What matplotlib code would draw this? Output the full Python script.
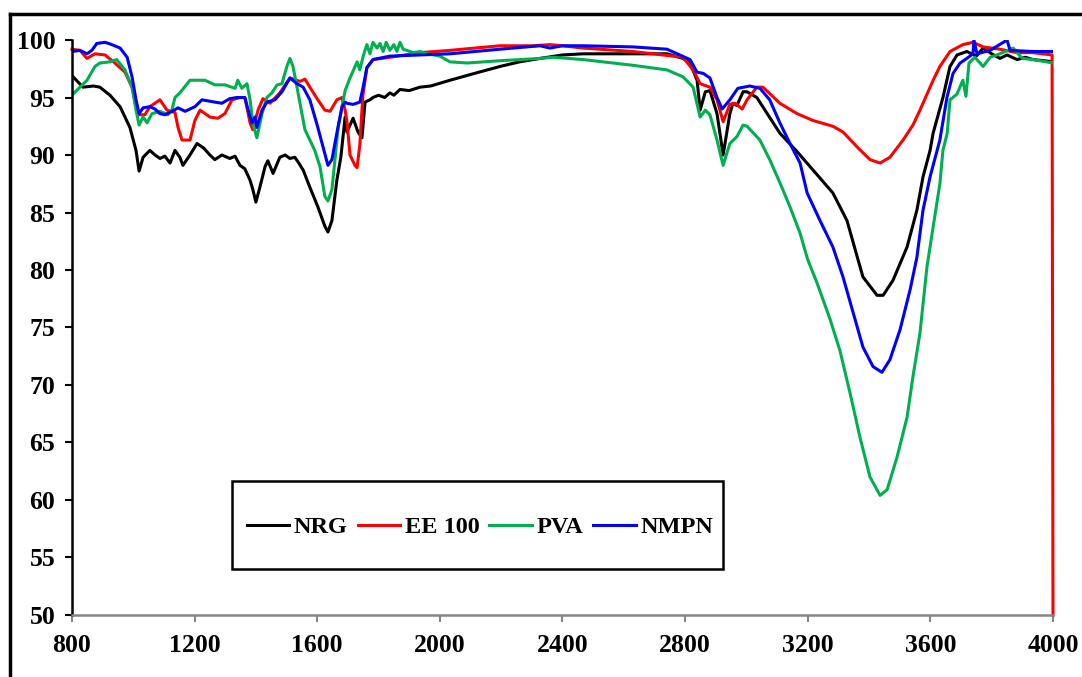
import matplotlib
matplotlib.use('Agg')
import matplotlib.pyplot as plt
from matplotlib.lines import Line2D
from matplotlib.patches import Rectangle

plt.rcParams['font.family'] = ['Liberation Serif', 'DejaVu Serif']
plt.rcParams['font.weight'] = 'bold'

# NRG
nrg_wn = [800, 836, 870, 891, 924, 957, 989, 1009, 1019, 1032, 1054, 1071, 1087, 1103,
          1120, 1136, 1152, 1162, 1185, 1208, 1230, 1250, 1266, 1289, 1315, 1332, 1348,
          1364, 1381, 1390, 1400, 1413, 1430, 1439, 1456, 1478, 1495, 1511, 1527, 1540,
          1554, 1576, 1602, 1625, 1635, 1648, 1664, 1677, 1691, 1697, 1717, 1733, 1746,
          1756, 1772, 1782, 1800, 1820, 1837, 1850, 1870, 1900, 1935, 1970, 2033, 2100,
          2196, 2260, 2327, 2400, 2467, 2578, 2741, 2793, 2816, 2839, 2849, 2866, 2881,
          2904, 2924, 2946, 2956, 2969, 2989, 3002, 3034, 3109, 3165, 3217, 3282, 3328,
          3364, 3380, 3426, 3446, 3478, 3524, 3556, 3576, 3599, 3609, 3641, 3664, 3687,
          3719, 3750, 3772, 3800, 3827, 3850, 3883, 3910, 3935, 3970, 4000]
nrg_t = [96.9, 95.9, 96.0, 95.9, 95.2, 94.2, 92.4, 90.4, 88.6, 89.8, 90.4, 90.0, 89.7, 89.9,
         89.3, 90.4, 89.8, 89.1, 90.0, 91.0, 90.6, 90.0, 89.6, 90.0, 89.7, 89.9, 89.1,
         88.8, 87.8, 87.0, 85.9, 87.2, 89.0, 89.5, 88.4, 89.8, 90.0, 89.7, 89.8, 89.3,
         88.7, 87.2, 85.5, 83.8, 83.3, 84.3, 87.8, 89.8, 93.3, 92.0, 93.2, 92.0, 91.5,
         94.6, 94.8, 95.0, 95.2, 95.0, 95.4, 95.2, 95.7, 95.6, 95.9, 96.0, 96.5, 97.0,
         97.7, 98.1, 98.4, 98.7, 98.8, 98.8, 98.8, 98.4, 98.0, 96.5, 93.9, 95.5, 95.6,
         93.6, 90.0, 93.6, 94.5, 94.3, 95.5, 95.5, 95.0, 91.9, 90.3, 88.7, 86.7, 84.3,
         80.9, 79.4, 77.8, 77.8, 79.1, 82.0, 85.2, 88.1, 90.4, 91.9, 95.0, 97.7, 98.7,
         99.0, 98.6, 99.3, 98.8, 98.4, 98.7, 98.3, 98.5, 98.3, 98.2, 98.1]

# EE 100
ee_wn = [800, 826, 849, 875, 908, 940, 973, 996, 1009, 1019, 1038, 1054, 1087, 1110, 1136,
         1146, 1159, 1185, 1201, 1218, 1250, 1276, 1299, 1322, 1348, 1364, 1381, 1390,
         1407, 1423, 1446, 1478, 1511, 1544, 1560, 1576, 1602, 1625, 1642, 1664, 1681,
         1691, 1697, 1707, 1723, 1730, 1739, 1749, 1762, 1782, 1837, 1935, 2033, 2196,
         2304, 2359, 2400, 2467, 2630, 2793, 2826, 2849, 2881, 2904, 2924, 2946, 2963,
         2986, 3002, 3034, 3054, 3109, 3165, 3217, 3282, 3315, 3361, 3403, 3436, 3468,
         3511, 3543, 3566, 3609, 3631, 3664, 3706, 3739, 3772, 3827, 3883, 3935, 3997,
         4000]
ee_t = [99.2, 99.1, 98.4, 98.8, 98.7, 98.0, 97.2, 95.9, 94.2, 93.5, 93.5, 94.2, 94.8, 93.9,
        93.7, 92.4, 91.3, 91.3, 93.0, 93.9, 93.3, 93.2, 93.6, 94.8, 95.0, 95.0, 92.8, 92.2,
        93.9, 94.9, 94.5, 95.4, 96.7, 96.4, 96.6, 95.9, 94.8, 93.9, 93.8, 94.8, 95.0,
        93.9, 92.9, 90.0, 89.1, 88.9, 90.9, 95.2, 97.6, 98.3, 98.5, 98.9, 99.1, 99.5,
        99.5, 99.6, 99.5, 99.3, 99.0, 98.5, 97.4, 96.2, 95.9, 94.8, 92.9, 94.4, 94.5,
        94.0, 94.8, 95.9, 95.9, 94.5, 93.6, 93.0, 92.5, 92.0, 90.7, 89.6, 89.3, 89.8,
        91.3, 92.6, 93.9, 96.5, 97.7, 99.0, 99.6, 99.8, 99.4, 99.2, 98.9, 98.9, 98.7,
        50.0]

# PVA
pva_wn = [800, 826, 849, 875, 891, 924, 946, 973, 996, 1009, 1019, 1032, 1045, 1061, 1087,
          1113, 1126, 1136, 1152, 1185, 1218, 1234, 1266, 1299, 1332, 1341, 1354, 1371,
          1381, 1390, 1403, 1420, 1436, 1452, 1469, 1485, 1501, 1511, 1521, 1534, 1550,
          1560, 1576, 1592, 1609, 1625, 1635, 1648, 1658, 1668, 1681, 1691, 1707, 1730,
          1739, 1750, 1762, 1772, 1782, 1795, 1805, 1815, 1825, 1837, 1850, 1860, 1870,
          1880, 1892, 1914, 1935, 1960, 2000, 2033, 2090, 2196, 2327, 2370, 2467, 2630,
          2741, 2793, 2826, 2849, 2866, 2881, 2904, 2924, 2946, 2969, 2989, 3002, 3044,
          3076, 3109, 3142, 3175, 3200, 3230, 3273, 3305, 3338, 3370, 3403, 3436, 3459,
          3491, 3524, 3543, 3566, 3589, 3609, 3631, 3641, 3655, 3664, 3687, 3706, 3716,
          3726, 3745, 3772, 3795, 3827, 3870, 3900, 3935, 4000]
pva_t = [95.2, 95.9, 96.5, 97.7, 98.0, 98.1, 98.3, 97.4, 95.9, 93.9, 92.6, 93.3, 92.8, 93.6,
         93.8, 93.5, 93.9, 95.0, 95.4, 96.5, 96.5, 96.5, 96.1, 96.1, 95.8, 96.5, 95.8, 96.2,
         94.8, 92.8, 91.5, 93.6, 95.0, 95.4, 96.1, 96.2, 97.7, 98.4, 97.7, 95.9, 93.6,
         92.2, 91.3, 90.4, 89.0, 86.4, 86.0, 87.0, 89.6, 92.4, 94.2, 95.6, 96.7, 98.1,
         97.4, 98.6, 99.6, 98.8, 99.8, 99.3, 99.7, 99.0, 99.8, 99.1, 99.6, 99.0, 99.8,
         99.2, 99.1, 98.9, 99.0, 98.8, 98.6, 98.1, 98.0, 98.2, 98.4, 98.5, 98.3, 97.8,
         97.4, 96.8, 95.9, 93.3, 93.9, 93.5, 91.3, 89.1, 91.0, 91.6, 92.6, 92.5, 91.3,
         89.6, 87.6, 85.5, 83.2, 80.9, 78.9, 75.7, 73.0, 69.3, 65.5, 62.0, 60.4, 60.9,
         63.7, 67.2, 70.7, 74.5, 80.3, 83.7, 87.5, 90.4, 91.9, 94.8, 95.3, 96.5, 95.1,
         98.0, 98.5, 97.7, 98.5, 98.8, 99.3, 98.4, 98.3, 98.0]

# NMPN
nmpn_wn = [800, 826, 849, 865, 881, 908, 930, 957, 980, 996, 1009, 1019, 1032, 1054, 1071,
           1087, 1103, 1126, 1146, 1169, 1201, 1224, 1266, 1289, 1315, 1338, 1364, 1381,
           1387, 1397, 1403, 1420, 1436, 1462, 1485, 1511, 1534, 1554, 1576, 1602, 1619,
           1635, 1648, 1664, 1681, 1691, 1697, 1717, 1739, 1749, 1762, 1782, 1837, 1935,
           2033, 2196, 2327, 2359, 2400, 2467, 2630, 2741, 2816, 2839, 2859, 2881, 2904,
           2921, 2946, 2972, 3011, 3044, 3076, 3109, 3142, 3175, 3198, 3240, 3282, 3315,
           3348, 3380, 3413, 3442, 3468, 3501, 3534, 3556, 3576, 3599, 3622, 3631, 3654,
           3674, 3697, 3719, 3739, 3742, 3752, 3795, 3850, 3860, 3935, 4000]
nmpn_t = [99.0, 99.1, 98.8, 99.1, 99.7, 99.8, 99.6, 99.3, 98.5, 96.8, 94.8, 93.6, 94.1, 94.2,
          94.0, 93.6, 93.5, 93.8, 94.1, 93.8, 94.2, 94.8, 94.6, 94.5, 94.9, 95.0, 95.0, 93.3,
          92.8, 93.3, 92.4, 93.9, 94.6, 94.8, 95.5, 96.7, 96.2, 95.9, 94.8, 92.4, 90.7,
          89.1, 89.6, 91.9, 94.2, 94.6, 94.5, 94.4, 94.6, 95.8, 97.6, 98.3, 98.6, 98.7,
          98.8, 99.2, 99.5, 99.3, 99.5, 99.5, 99.4, 99.2, 98.3, 97.2, 97.1, 96.7, 95.0,
          94.0, 94.8, 95.8, 96.0, 95.8, 94.8, 92.8, 91.0, 89.3, 86.7, 84.3, 82.0, 79.4,
          76.3, 73.3, 71.6, 71.1, 72.2, 74.8, 78.3, 81.1, 85.2, 88.1, 90.4, 91.3, 95.0,
          97.1, 98.0, 98.4, 98.8, 100.0, 98.8, 99.1, 100.0, 99.1, 99.0, 99.0]

fig = plt.figure(figsize=(10.82, 6.77), dpi=100)
ax = fig.add_axes([0.0665, 0.0916, 0.9067, 0.8493])

lw = 2.2
ax.plot(nrg_wn, nrg_t, color='black', lw=lw, label='NRG')
ax.plot(ee_wn, ee_t, color='#FF0000', lw=lw, label='EE 100', clip_on=False)
ax.plot(pva_wn, pva_t, color='#00B050', lw=lw, label='PVA')
ax.plot(nmpn_wn, nmpn_t, color='#0000FF', lw=lw, label='NMPN')

ax.set_xlim(800, 4000)
ax.set_ylim(50, 100)
ax.set_xticks(range(800, 4001, 400))
ax.set_yticks(range(50, 101, 5))

ax.spines['top'].set_visible(False)
ax.spines['right'].set_visible(False)
ax.spines['left'].set_linewidth(1.8)
ax.spines['left'].set_color('black')
ax.spines['bottom'].set_linewidth(1.8)
ax.spines['bottom'].set_color('#858585')
ax.tick_params(axis='y', direction='out', length=5, width=1.5, color='black',
               labelsize=18.5, pad=7)
ax.tick_params(axis='x', direction='out', length=5, width=1.5, color='#858585',
               labelsize=18.5, pad=9)

ax.add_patch(Rectangle((0.163, 0.080), 0.501, 0.153, transform=ax.transAxes,
                       fill=False, edgecolor='black', lw=1.8, zorder=5))
ax.legend(loc='center', bbox_to_anchor=(0.416, 0.153), ncol=4, frameon=False,
          fontsize=17.5, handlelength=1.75, handletextpad=0.2, columnspacing=0.4)

# outer frame
fig.add_artist(Line2D([10 / 1082, 10 / 1082], [-0.1, 1 - 14 / 677], color='black', lw=2.5))
fig.add_artist(Line2D([10 / 1082, 1.1], [1 - 14 / 677, 1 - 14 / 677], color='black', lw=2.5))

fig.savefig('out.png', dpi=100)
